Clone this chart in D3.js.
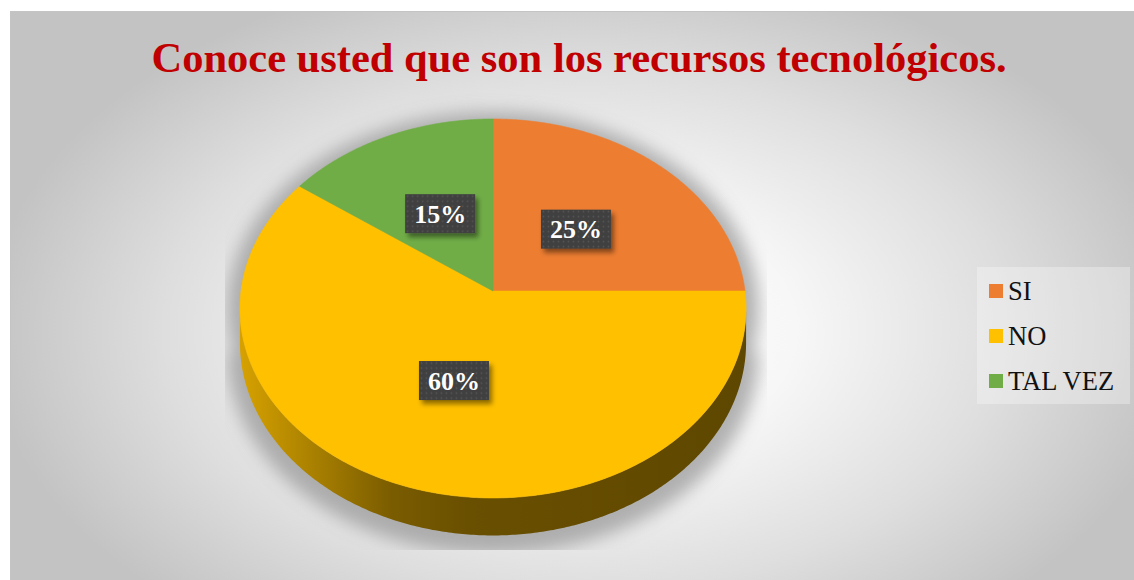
<!DOCTYPE html>
<html>
<head>
<meta charset="utf-8">
<script src="https://cdn.jsdelivr.net/npm/d3@7"></script>
<style>
  html, body { margin: 0; padding: 0; background: #ffffff; }
  svg { display: block; }
</style>
</head>
<body>
<svg id="chart" width="1134" height="580"></svg>
<script>
const title = "Conoce usted que son los recursos tecnológicos.";
const categories = ["SI", "NO", "TAL VEZ"];
const values = [25, 60, 15];
const colors = ["#ED7D31", "#FFC000", "#70AD47"];

const W = 1134, H = 580;
const svg = d3.select("#chart");
const defs = svg.append("defs");

// chart area background
const bg = defs.append("radialGradient")
    .attr("id", "bg")
    .attr("gradientUnits", "userSpaceOnUse")
    .attr("cx", 585).attr("cy", 330).attr("r", 600)
    .attr("gradientTransform", "translate(585,330) scale(1,0.62) translate(-585,-330)");
[[0, "#ffffff"], [0.35, "#f7f7f7"], [0.7, "#dedede"], [1, "#c3c3c3"]]
    .forEach(s => bg.append("stop").attr("offset", s[0]).attr("stop-color", s[1]));

svg.append("rect")
    .attr("x", 10.5).attr("y", 11.5)
    .attr("width", 1150).attr("height", 600)
    .attr("fill", "url(#bg)")
    .attr("stroke", "#c4c4c4");

// pie geometry (perspective ellipse)
const cx = 493, cy = 291, R = 252, p = 0.0923, Ry = 172 * (1 + p), depth = 34;

function proj(a, rr, dz) {
    const Z = rr * Math.cos(a);
    const s = 1 / (1 + p * Z);
    return [cx + R * rr * Math.sin(a) * s, cy - Ry * Z * s + dz * s];
}

function arcPoints(a0, a1, dz) {
    const n = Math.max(2, Math.ceil((a1 - a0) / 0.01));
    return d3.range(n + 1).map(i => proj(a0 + (a1 - a0) * i / n, 1, dz));
}

const pie = d3.pie().sort(null).value(d => d)(values);
const line = d3.line();

// shadow under the pie
defs.append("filter").attr("id", "blur")
    .attr("x", "-20%").attr("y", "-20%").attr("width", "140%").attr("height", "140%")
    .append("feGaussianBlur").attr("stdDeviation", 8);
defs.append("clipPath").attr("id", "plotClip")
    .append("rect").attr("x", 225).attr("y", 90).attr("width", 542).attr("height", 460);

const sil1 = Math.acos(-p), sil2 = 2 * Math.PI - Math.acos(-p);
const outline = arcPoints(0, 2 * Math.PI, 0);

svg.append("g")
    .attr("clip-path", "url(#plotClip)")
    .append("path")
    .attr("d", line(arcPoints(sil1, sil2, depth + 8)) + line(outline))
    .attr("transform", "translate(493,300) scale(1.05,1.04) translate(-493,-300)")
    .attr("fill", "#9a9a9a")
    .attr("opacity", 0.75)
    .attr("filter", "url(#blur)");

// side walls
pie.forEach((d, i) => {
    const lo = Math.max(d.startAngle, sil1), hi = Math.min(d.endAngle, sil2);
    if (hi <= lo) return;
    const c = d3.rgb(colors[i]);
    const g = defs.append("linearGradient")
        .attr("id", "side" + i)
        .attr("gradientUnits", "userSpaceOnUse")
        .attr("x1", cx - R).attr("x2", cx + R).attr("y1", 0).attr("y2", 0);
    [[0, 0.84], [0.13, 0.68], [0.3, 0.48], [0.45, 0.41], [1, 0.37]].forEach(s => {
        g.append("stop").attr("offset", s[0])
            .attr("stop-color", d3.rgb(c.r * s[1], c.g * s[1], c.b * s[1]).formatHex());
    });
    const pts = arcPoints(lo, hi, 0).concat(arcPoints(lo, hi, depth).reverse());
    svg.append("path")
        .attr("d", line(pts) + "Z")
        .attr("fill", "url(#side" + i + ")");
});

// top face slices
svg.append("g").selectAll("path")
    .data(pie)
    .join("path")
    .attr("d", d => line([[cx, cy]].concat(arcPoints(d.startAngle, d.endAngle, 0))) + "Z")
    .attr("fill", (d, i) => colors[i])
    .attr("stroke", (d, i) => colors[i])
    .attr("stroke-width", 0.6);

// data labels
const pat = defs.append("pattern")
    .attr("id", "dots").attr("patternUnits", "userSpaceOnUse")
    .attr("width", 5).attr("height", 5);
pat.append("rect").attr("width", 5).attr("height", 5).attr("fill", "#3f3f3f");
pat.append("circle").attr("cx", 2.5).attr("cy", 2.5).attr("r", 0.9).attr("fill", "#555555");

const ds = defs.append("filter").attr("id", "lblShadow")
    .attr("x", "-30%").attr("y", "-30%").attr("width", "170%").attr("height", "190%");
ds.append("feDropShadow").attr("dx", 3).attr("dy", 4).attr("stdDeviation", 2.5)
    .attr("flood-color", "#000").attr("flood-opacity", 0.45);

const total = d3.sum(values);
const lbl = svg.append("g").selectAll("g")
    .data(pie)
    .join("g")
    .attr("transform", d => {
        const [x, y] = proj((d.startAngle + d.endAngle) / 2, 0.48, 0);
        return `translate(${x},${y})`;
    });
lbl.append("rect")
    .attr("x", -35).attr("y", -19.5).attr("width", 70).attr("height", 39)
    .attr("fill", "url(#dots)")
    .attr("filter", "url(#lblShadow)");
lbl.append("text")
    .attr("text-anchor", "middle")
    .attr("y", 9)
    .attr("font-family", "'Liberation Serif', 'Times New Roman', serif")
    .attr("font-weight", "bold")
    .attr("font-size", 26)
    .attr("fill", "#ffffff")
    .text(d => Math.round(d.value / total * 100) + "%");

// legend
svg.append("rect")
    .attr("x", 977).attr("y", 267).attr("width", 153).attr("height", 137)
    .attr("fill", "#ffffff").attr("opacity", 0.3);
const leg = svg.append("g").selectAll("g")
    .data(categories)
    .join("g")
    .attr("transform", (d, i) => `translate(989,${291 + i * 45})`);
leg.append("rect")
    .attr("x", 0).attr("y", -7).attr("width", 14).attr("height", 14)
    .attr("fill", (d, i) => colors[i]);
leg.append("text")
    .attr("x", 19).attr("y", 8.5)
    .attr("font-family", "'Liberation Serif', 'Times New Roman', serif")
    .attr("font-size", 26.5)
    .attr("fill", "#111111")
    .text(d => d);

// title
svg.append("text")
    .attr("x", 579).attr("y", 72)
    .attr("text-anchor", "middle")
    .attr("font-family", "'Liberation Serif', 'Times New Roman', serif")
    .attr("font-weight", "bold")
    .attr("font-size", 42.5)
    .attr("fill", "#C00000")
    .text(title);
</script>
</body>
</html>
